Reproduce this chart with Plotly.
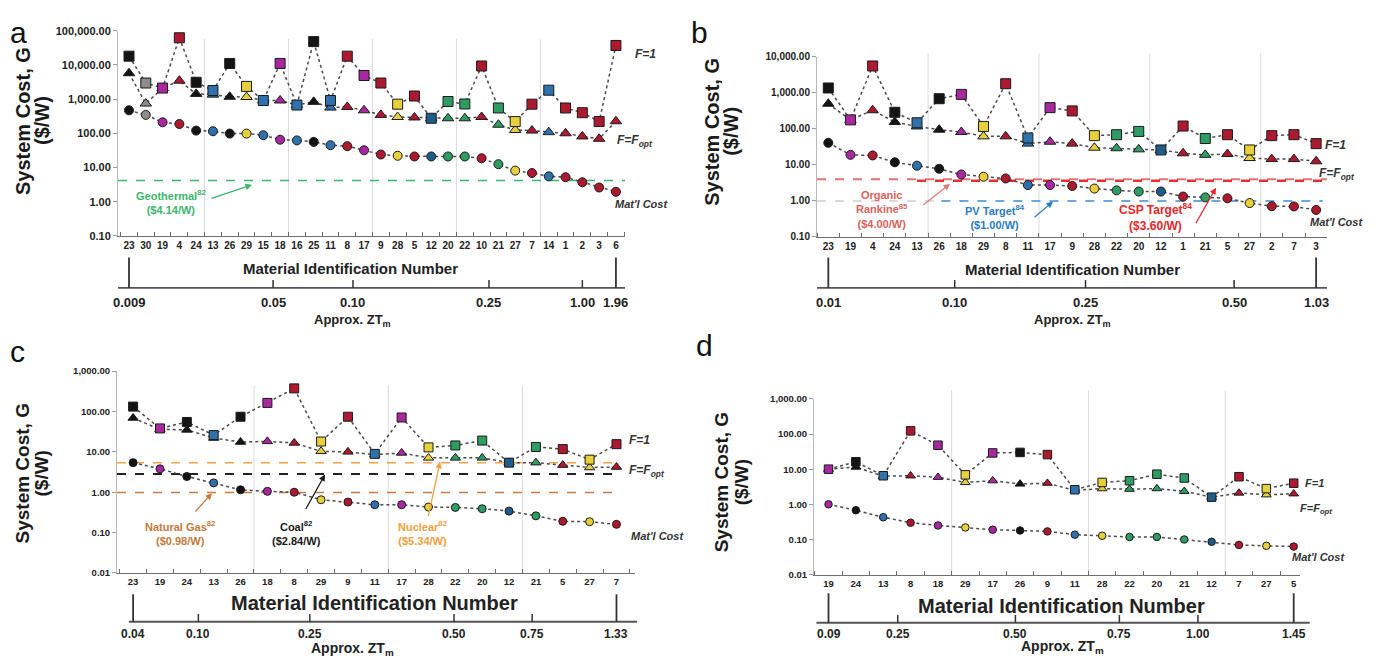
import plotly.graph_objects as go

# The page body has an 8 px margin, so the figure is drawn 8 px smaller and every
# reference-pixel position is shifted by that margin.
W, H = 1386, 669
OFF = 8
FW, FH = W - OFF, H - OFF
FONT = "Liberation Sans, Arial, sans-serif"

def px(x):
    return (x - OFF) / FW

def py(y):
    return 1 - (y - OFF) / FH

# ---------------- colours per material id ----------------
BLACK, GREY, MAG, RED, BLUE, DBLUE, YEL, GRN = ("#141414", "#8c8c8c", "#a8289f", "#ad1a30",
                                                 "#2f71ad", "#1f5c88", "#e6d03c", "#2e9c63")
MAT_COLOR = {23: BLACK, 24: BLACK, 26: BLACK, 25: BLACK, 30: GREY,
             19: MAG, 18: MAG, 17: MAG,
             4: RED, 8: RED, 9: RED, 5: RED, 10: RED, 7: RED, 1: RED, 2: RED, 3: RED, 6: RED,
             13: BLUE, 15: BLUE, 16: BLUE, 11: BLUE, 14: BLUE, 12: DBLUE,
             29: YEL, 28: YEL, 27: YEL, 20: GRN, 22: GRN, 21: GRN}

# ---------------- panel a ----------------
a_ids = [23, 30, 19, 4, 24, 13, 26, 29, 15, 18, 16, 25, 11, 8, 17, 9, 28, 5, 12, 20, 22, 10, 21, 27, 7, 14, 1, 2, 3, 6]
a_f1 = [18000, 2950, 2100, 62000, 3100, 1780, 11000, 2350, 910, 11000, 670, 48000, 910, 18000, 4900,
        2950, 710, 1230, 275, 850, 720, 9300, 550, 220, 710, 1820, 550, 400, 220, 37000]
a_fopt = [5700, 740, 2100, 3450, 1420, 1350, 1170, 1150, 910, 910, 670, 830, 565, 590, 470,
          345, 300, 290, 275, 275, 275, 300, 178, 125, 120, 108, 100, 81, 69, 225]
a_mat = [470, 345, 210, 187, 120, 115, 98, 98, 88, 65, 62, 56, 45, 42, 32,
         24, 22, 21, 21, 21, 21, 18.6, 12.5, 8.1, 6.9, 5.5, 5.2, 3.7, 2.6, 1.95]
a_zt_labels = ["0.009", "0.05", "0.10", "0.25", "1.00", "1.96"]
a_zt_pos = [0, 8.58, 13.34, 21.44, 27, 29]
a_geo = 4.14

# ---------------- panel b ----------------
b_ids = [23, 19, 4, 24, 13, 26, 18, 29, 8, 11, 17, 9, 28, 22, 20, 12, 1, 21, 5, 27, 2, 7, 3]
b_f1 = [1370, 178, 5600, 290, 148, 690, 910, 117, 1800, 56, 390, 316, 65, 69, 85, 26, 120, 54, 69, 26, 65, 69, 39]
b_fopt = [500, 178, 330, 155, 117, 95, 82, 62, 62, 39, 44, 39, 30, 29, 27, 26, 21, 19, 20, 15.5, 14.5, 14.5, 12.6]
b_mat = [41, 19, 18.3, 11.8, 9.5, 7.8, 5.4, 4.7, 4.2, 2.75, 2.75, 2.6, 2.2, 1.96, 1.82, 1.82,
         1.32, 1.25, 1.18, 0.87, 0.71, 0.70, 0.56]
b_zt_labels = ["0.01", "0.10", "0.25", "0.50", "1.03"]
b_zt_pos = [0, 5.7, 11.6, 18.3, 22]
b_rankine, b_csp, b_pv = 4.00, 3.60, 1.00

# ---------------- panel c ----------------
c_ids = [23, 19, 24, 13, 26, 18, 8, 29, 9, 11, 17, 28, 22, 20, 12, 21, 5, 27, 7]
c_f1 = [132, 38, 55, 26, 74, 163, 373, 18, 74, 8.9, 71, 12.9, 14.4, 19, 5.4, 13.2, 11.7, 6.4, 15.5]
c_fopt = [69, 36, 35, 22, 17.5, 18.2, 16.6, 10.3, 10, 8.5, 9.4, 7.1, 7.1, 7.1, 5.4, 5.4, 4.7, 4.1, 4.2]
c_mat = [5.4, 3.8, 2.45, 1.7, 1.15, 1.05, 1.0, 0.65, 0.57, 0.49, 0.49, 0.43, 0.42, 0.39, 0.34, 0.26, 0.19, 0.186, 0.16]
c_zt_labels = ["0.04", "0.10", "0.25", "0.50", "0.75", "1.33"]
c_zt_pos = [0, 2.43, 6.58, 11.95, 14.86, 18]
c_nuclear, c_coal, c_gas = 5.34, 2.84, 0.98

# ---------------- panel d ----------------
d_ids = [19, 24, 13, 8, 18, 29, 17, 26, 9, 11, 28, 22, 20, 21, 12, 7, 27, 5]
d_f1 = [10, 16.3, 6.5, 123, 48, 6.9, 29, 30, 26, 2.6, 4.2, 4.7, 7.2, 5.6, 1.6, 6.1, 2.8, 4.0]
d_fopt = [10, 11.5, 6.3, 6.5, 5.9, 4.2, 4.7, 3.8, 4.0, 2.5, 2.8, 2.7, 2.8, 2.35, 1.6, 2.1, 1.87, 2.0]
d_mat = [1.0, 0.68, 0.43, 0.30, 0.25, 0.22, 0.19, 0.18, 0.17, 0.137, 0.128, 0.118, 0.118, 0.10,
         0.086, 0.07, 0.066, 0.063]
d_zt_labels = ["0.09", "0.25", "0.50", "0.75", "1.00", "1.45"]
d_zt_pos = [0, 2.53, 6.83, 10.63, 13.5, 17]

# ---------------- layout geometry (reference pixels) ----------------
panels = {
    "a": dict(ids=a_ids, f1=a_f1, fopt=a_fopt, mat=a_mat, ax="", xr=[-0.655, 29.54], yr=[-1, 5],
              box=(118, 625, 25, 234), ms=10, zt=(a_zt_labels, a_zt_pos), zt_y=287, zt_tall=256,
              zt_lab_y=302, grid=[4.5, 9.5, 14.5, 19.5, 24.5], grid_top=0.96, zt_ext=(0, 1),
              yfs=11, xfs=10, ztfs=13),
    "b": dict(ids=b_ids, f1=b_f1, fopt=b_fopt, mat=b_mat, ax="2", xr=[-0.51, 22.49], yr=[-1, 4],
              box=(817, 1327, 51.7, 235), ms=10, zt=(b_zt_labels, b_zt_pos), zt_y=287, zt_tall=256,
              zt_lab_y=302, grid=[4.5, 9.5, 14.5, 19.5], grid_top=1.02, zt_ext=(0, 1),
              yfs=10, xfs=10, ztfs=13),
    "c": dict(ids=c_ids, f1=c_f1, fopt=c_fopt, mat=c_mat, ax="3", xr=[-0.6, 18.69], yr=[-2, 3],
              box=(117, 635, 371.7, 577.3), ms=9, zt=(c_zt_labels, c_zt_pos), zt_y=627, zt_tall=599,
              zt_lab_y=639, grid=[4.5, 9.5, 14.5], grid_top=0.93, zt_ext=(0.023, 1.004),
              yfs=9.5, xfs=9.5, ztfs=12),
    "d": dict(ids=d_ids, f1=d_f1, fopt=d_fopt, mat=d_mat, ax="4", xr=[-0.53, 17.23], yr=[-2, 3],
              box=(814, 1300, 400, 579), ms=8.5, zt=(d_zt_labels, d_zt_pos), zt_y=628, zt_tall=598,
              zt_lab_y=639, grid=[4.5, 9.5, 14.5], grid_top=1.05, zt_ext=(0.005, 1.02),
              yfs=9.5, xfs=9.5, ztfs=12),
}

fig = go.Figure()
shapes, annos = [], []
layout = {}


def add_ref(p, value, color, width, dash, x0=None, x1=None):
    xr = p["xr"]
    fig.add_trace(go.Scatter(x=[xr[0] if x0 is None else x0, xr[1] if x1 is None else x1], y=[value, value],
                             mode="lines", line=dict(color=color, width=width, dash=dash),
                             xaxis="x" + p["ax"], yaxis="y" + p["ax"], hoverinfo="skip", showlegend=False))


# reference lines first (below markers)
add_ref(panels["a"], a_geo, "#3cb56e", 1.5, "dash")
add_ref(panels["b"], b_rankine, "#e27373", 2, "dash")
add_ref(panels["b"], b_csp, "#ee2b2f", 2.5, "dash", x0=4.0)
add_ref(panels["b"], b_pv, "#cfcfcf", 1.5, "dash", x1=5.1)
add_ref(panels["b"], b_pv, "#3d8ad4", 1.5, "dash", x0=5.1, x1=22.3)
add_ref(panels["c"], c_nuclear, "#f3a24c", 1.5, "dash", x1=17.9)
add_ref(panels["c"], c_coal, "#222222", 2, "dash", x1=17.9)
add_ref(panels["c"], c_gas, "#c97b43", 1.5, "dash", x1=17.9)

for key, p in panels.items():
    n = len(p["ids"])
    xs = list(range(n))
    cols = [MAT_COLOR[i] for i in p["ids"]]
    ax = p["ax"]
    for vals, sym, size in ((p["mat"], "circle", p["ms"] - 1), (p["fopt"], "triangle-up", p["ms"]),
                            (p["f1"], "square", p["ms"])):
        fig.add_trace(go.Scatter(x=xs, y=vals, mode="lines+markers",
                                 line=dict(color="#4a4a4a", width=1.5, dash="dot"),
                                 marker=dict(symbol=sym, size=size, color=cols,
                                             line=dict(color="#1a1a1a", width=1)),
                                 xaxis="x" + ax, yaxis="y" + ax, showlegend=False))
    x0, x1, y0, y1 = p["box"]
    lo, hi = p["yr"]
    tv = [10 ** k for k in range(lo, hi + 1)]
    layout["xaxis" + ax] = dict(domain=[px(x0), px(x1)], range=p["xr"], anchor="y" + ax,
                                tickmode="array", tickvals=xs, ticktext=[str(i) for i in p["ids"]],
                                ticks="", showgrid=False, zeroline=False, showline=True,
                                linecolor="#6e6e6e", linewidth=1,
                                tickfont=dict(family=FONT, size=p["xfs"], color="#222", weight=700),
                                minor=dict(tickvals=[i + 0.5 for i in range(-1, n)], ticks="inside",
                                           ticklen=4, tickcolor="#6e6e6e", showgrid=False))
    layout["yaxis" + ax] = dict(domain=[py(y1), py(y0)], type="log", range=[lo, hi], anchor="x" + ax,
                                tickmode="array", tickvals=tv, ticktext=[f"{v:,.2f}" for v in tv],
                                ticks="outside", ticklen=4, tickcolor="#9a9a9a", showline=True,
                                linecolor="#b8b8b8", linewidth=1, showgrid=False, zeroline=False,
                                tickfont=dict(family=FONT, size=p["yfs"], color="#222", weight=700))
    for g in p["grid"]:
        shapes.append(dict(type="line", xref="x" + ax, yref="y" + ax + " domain", x0=g, x1=g, y0=0,
                           y1=p["grid_top"], line=dict(color="#dcdcdc", width=1), layer="below"))
    # secondary ZT_m axis
    zl, zp = p["zt"]
    e0, e1 = p["zt_ext"]
    shapes.append(dict(type="line", xref="x" + ax + " domain", yref="paper", x0=e0, x1=e1,
                       y0=py(p["zt_y"]), y1=py(p["zt_y"]), line=dict(color="#555", width=1.8)))
    for k, (lab, pos) in enumerate(zip(zl, zp)):
        tall = k == 0 or k == len(zl) - 1
        top = p["zt_tall"] if tall else p["zt_y"] - 8
        shapes.append(dict(type="line", xref="x" + ax, yref="paper", x0=pos, x1=pos,
                           y0=py(p["zt_y"]), y1=py(top), line=dict(color="#333", width=1.8 if tall else 1.5)))
        annos.append(dict(text=f"<b>{lab}</b>", xref="x" + ax, yref="paper", x=pos, y=py(p["zt_lab_y"]),
                          xanchor="center", yanchor="middle", showarrow=False,
                          font=dict(family=FONT, size=p["ztfs"], color="#222")))


def text(t, x, y, size, color="#222", xanchor="center", angle=0, italic=False, bold=True):
    s = t
    if italic:
        s = f"<i>{s}</i>"
    if bold:
        s = f"<b>{s}</b>"
    annos.append(dict(text=s, xref="paper", yref="paper", x=px(x), y=py(y), xanchor=xanchor, yanchor="middle",
                      showarrow=False, textangle=angle, font=dict(family=FONT, size=size, color=color)))


def arrow(tail, tip, color):
    annos.append(dict(text="", xref="paper", yref="paper", x=px(tip[0]), y=py(tip[1]), axref="pixel",
                      ayref="pixel", ax=tail[0] - tip[0], ay=tail[1] - tip[1], showarrow=True,
                      arrowhead=2, arrowsize=1, arrowwidth=1.3, arrowcolor=color))


# panel letters
for lab, x, y, xa, ya in (("a", OFF, OFF, "left", "top"), ("b", 700, OFF, "center", "top"),
                          ("c", OFF, 352, "left", "middle"), ("d", 704, 346, "center", "middle")):
    annos.append(dict(text=lab, xref="paper", yref="paper", x=px(x), y=py(y), xanchor=xa,
                      yanchor=ya, showarrow=False, font=dict(family=FONT, size=30, color="#111")))

# y titles: two rotated lines
for (x1_, x2_, y_, s) in ((23, 42, 117, 20), (712, 731, 128, 20), (23, 42, 476, 19), (721, 741, 485, 19)):
    text("System Cost, G", x1_, y_, s, "#1a1a1a", angle=-90)
    text("($/W)", x2_, y_, s, "#1a1a1a", angle=-90)

# axis titles
text("Material Identification Number", 350, 267, 15)
text("Approx. ZT<sub>m</sub>", 352, 320, 13)
text("Material Identification Number", 1072, 268, 15)
text("Approx. ZT<sub>m</sub>", 1072, 320, 13)
text("Material Identification Number", 374, 608, 20)
text("Approx. ZT<sub>m</sub>", 352, 655, 14)
text("Material Identification Number", 1061, 611, 20)
text("Approx. ZT<sub>m</sub>", 1062, 653, 14)

# series labels
text("F=1", 633, 49, 12, "#333", "left", italic=True)
text("F=F<sub>opt</sub>", 615, 137, 12, "#333", "left", italic=True)
text("Mat'l Cost", 613, 202, 11, "#333", "left", italic=True)
text("F=1", 1323, 141, 12, "#333", "left", italic=True)
text("F=F<sub>opt</sub>", 1317, 171, 12, "#333", "left", italic=True)
text("Mat'l Cost", 1308, 220, 11, "#333", "left", italic=True)
text("F=1", 627, 442, 12, "#333", "left", italic=True)
text("F=F<sub>opt</sub>", 627, 473, 12, "#333", "left", italic=True)
text("Mat'l Cost", 629, 540, 11, "#333", "left", italic=True)
text("F=1", 1303, 486, 11, "#333", "left", italic=True)
text("F=F<sub>opt</sub>", 1298, 512, 11, "#333", "left", italic=True)
text("Mat'l Cost", 1290, 561, 11, "#333", "left", italic=True)

# reference annotations
text("Geothermal<sup>82</sup><br>($4.14/W)", 171, 199, 11, "#3cb56e")
arrow((210, 196), (252, 182), "#3cb56e")
text("Organic<br>Rankine<sup>85</sup><br>($4.00/W)", 882, 207, 11, "#d9625c")
arrow((922, 203), (950, 181), "#e07a7a")
text("PV Target<sup>84</sup><br>($1.00/W)", 995, 215, 11, "#2b7cc0")
arrow((1033, 216), (1053, 199), "#2b7cc0")
text("CSP Target<sup>84</sup><br>($3.60/W)", 1155, 215, 12, "#e8262b")
arrow((1195, 222), (1216, 185), "#e8262b")
text("Natural Gas<sup>82</sup><br>($0.98/W)", 180, 537, 11, "#c47a3c")
arrow((194, 516), (212, 496), "#c47a3c")
text("Coal<sup>82</sup><br>($2.84/W)", 296, 537, 11, "#1a1a1a")
arrow((305, 513), (325, 477), "#1a1a1a")
text("Nuclear<sup>82</sup><br>($5.34/W)", 422, 537, 11, "#f0a040")
arrow((428, 520), (440, 464), "#f0a040")

fig.update_layout(width=FW, height=FH, margin=dict(l=0, r=0, t=0, b=0), paper_bgcolor="white",
                  plot_bgcolor="rgba(0,0,0,0)", showlegend=False, shapes=shapes, annotations=annos,
                  font=dict(family=FONT), **layout)

fig.write_html("out.html")
